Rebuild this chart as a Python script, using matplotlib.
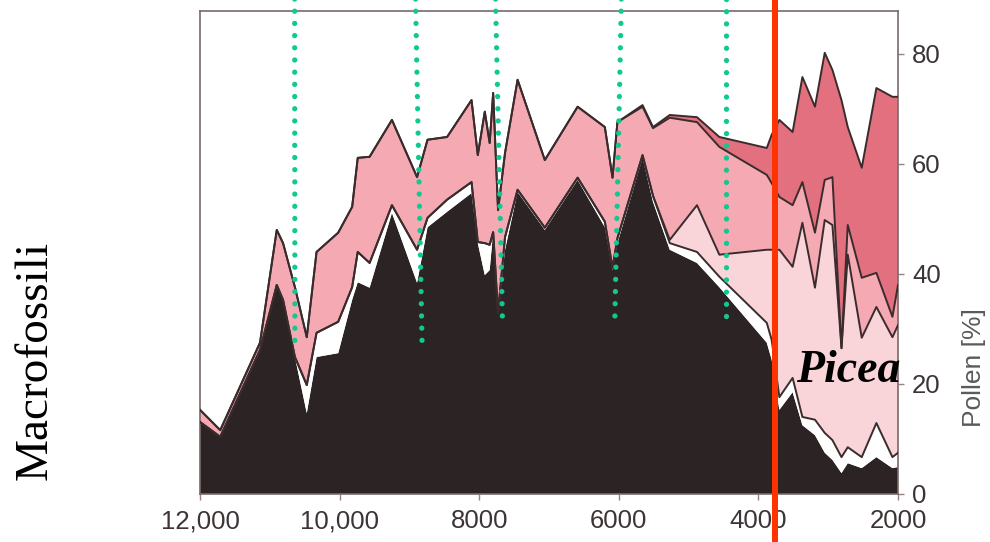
import numpy as np
import matplotlib.pyplot as plt

# sample ages (yr BP) and stacked percentages
ages = [12000, 11710, 11140, 10900, 10810, 10640, 10470, 10330, 10020, 9820,
        9740, 9570, 9250, 8890, 8740, 8460, 8110, 8020, 7920, 7850,
        7800, 7730, 7630, 7450, 7060, 6590, 6200, 6090, 6020, 5660,
        5510, 5270, 4880, 4560, 3880, 3810, 3700, 3510, 3370, 3190,
        3050, 2940, 2810, 2720, 2520, 2310, 2080, 2000]

black = [13.1, 10.4, 26.2, 38.0, 35.3, 24.9, 14.7, 24.9, 25.6, 35.3,
         38.5, 37.5, 51.1, 38.4, 48.5, 51.3, 54.7, 45.6, 39.8, 40.7,
         47.6, 32.9, 44.4, 54.9, 48.0, 57.1, 48.5, 40.7, 45.6, 61.1,
         53.1, 44.4, 42.0, 37.6, 27.5, 24.4, 15.3, 18.5, 12.5, 10.7,
         7.5, 6.2, 3.8, 5.6, 4.7, 6.7, 4.7, 4.9]
white = [0, 0, 0, 0, 0, 0, 5.1, 4.4, 5.7, 2.3,
         5.5, 4.5, 1.4, 6.0, 1.7, 2.2, 2.0, 0.2, 5.8, 4.6,
         0, 0, 2.3, 0.4, 0.4, 0.4, 1.0, 0.4, 0.9, 0.5,
         1.1, 1.2, 2.0, 1.9, 3.6, 3.6, 2.3, 2.6, 1.5, 2.8,
         3.6, 3.6, 2.9, 2.9, 2.0, 6.2, 2.0, 2.6]
light = [0] * 31 + [0.6, 8.5, 4.0, 13.3, 16.4, 26.8, 20.2, 35.3, 24.0,
                    38.7, 39.1, 19.8, 35.0, 21.7, 21.1, 21.8, 23.2]
pink = [2.2, 1.2, 1.3, 10.0, 10.3, 12.7, 8.7, 14.7, 16.2, 14.6,
        17.1, 19.3, 15.5, 13.2, 14.2, 11.4, 14.9, 15.8, 23.9, 18.5,
        25.3, 18.7, 15.3, 20.0, 12.3, 12.9, 17.2, 16.4, 21.1, 8.8,
        12.3, 22.2, 15.1, 19.6, 13.6, 12.1, 9.6, 11.2, 7.4, 10.0,
        7.3, 8.7, 0.0, 5.4, 10.9, 6.2, 3.7, 7.3]
dark = [0] * 29 + [0.3, 0.2, 0.5, 0.9, 1.8, 4.9, 8.8, 14.0, 13.3, 19.1,
                   22.9, 23.1, 19.5, 45.1, 17.8, 20.0, 33.6, 40.0, 34.2]

layer_colors = ['#2c2424', '#ffffff', '#f9d5da', '#f4a9b3', '#e2707f']

xticks = [12000, 10000, 8000, 6000, 4000, 2000]
xticklabels = ['12,000', '10,000', '8000', '6000', '4000', '2000']
yticks = [0, 20, 40, 60, 80]

# dotted markers: (age at top, age at bottom, lower end in %)
dot_top = [10644, 8912, 7766, 5963, 4459]
dot_bottom = [10640, 8817, 7666, 6058, 4459]
dot_end = [26.5, 26.5, 31.1, 31.1, 31.6]
picea_age = 3768

fig = plt.figure(figsize=(9.9, 5.42), dpi=100)
ax = fig.add_axes([0.2020, 0.0886, 0.7051, 0.8911])

layers = np.array([black, white, light, pink, dark])
ax.stackplot(ages, layers, colors=layer_colors, linewidth=0)

tops = np.cumsum(layers, axis=0)
for k in range(1, 5):
    ax.plot(ages, tops[k], color='#3a2c2c', lw=1.4, zorder=3)

ax.set_xlim(12000, 2000)
ax.set_ylim(0, 87.8)

for s in ax.spines.values():
    s.set_color('#7a6a6a')
    s.set_linewidth(1.2)

ax.set_xticks(xticks)
ax.set_xticklabels(xticklabels)
ax.set_yticks(yticks)
ax.yaxis.tick_right()
ax.tick_params(axis='both', direction='out', length=4, width=1,
               color='#9a8080', labelcolor='#3d3535', labelsize=18.5)
ax.tick_params(axis='x', pad=7)
ax.tick_params(axis='y', pad=6)
for lab in ax.get_xticklabels() + ax.get_yticklabels():
    lab.set_family('Liberation Sans')

ax.text(1.109, 0.261, 'Pollen [%]', transform=ax.transAxes, rotation=90,
        ha='center', va='center', fontsize=19, color='#5a5a5a',
        family='Liberation Sans')

# green dotted markers
for a0, a1, v1 in zip(dot_top, dot_bottom, dot_end):
    ax.plot([a0, a1], [90, v1], color='#10c890', lw=3.8,
            linestyle=(0, (0.01, 2.3)), dash_capstyle='round',
            clip_on=False, zorder=6)

# red line for Picea arrival
ax.axvline(picea_age, ymin=-0.1, ymax=1.03, color='#ff3300', lw=4.3,
           clip_on=False, zorder=7)

ax.text(3467, 20.4, 'Picea', ha='left', va='baseline', fontsize=33,
        family='Liberation Serif', style='italic', weight='bold',
        color='black', zorder=8)

fig.text(0.036, 0.335, 'Macrofossili', rotation=90, ha='center', va='center',
         fontsize=34, family='Liberation Serif', color='black')

fig.savefig('out.png', dpi=100, facecolor='white')
